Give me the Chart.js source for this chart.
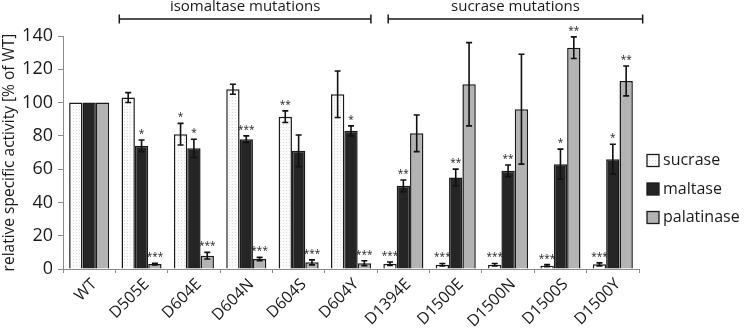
<!DOCTYPE html>
<html>
<head>
<meta charset="utf-8">
<script src="https://cdn.jsdelivr.net/npm/chart.js@4.4.1/dist/chart.umd.min.js"></script>
<style>
    html, body { margin: 0; padding: 0; background: #fff; }
</style>
</head>
<body>
<canvas id="chart" width="745" height="332"></canvas>
<script>
// values (% of WT)
const categories = ['WT', 'D505E', 'D604E', 'D604N', 'D604S', 'D604Y', 'D1394E', 'D1500E', 'D1500N', 'D1500S', 'D1500Y'];
const seriesNames = ['sucrase', 'maltase', 'palatinase'];

const sucrase = [100, 103, 81, 108, 91.5, 105, 3.2, 2.6, 2.6, 2, 2.8];
const maltase = [100, 74, 72.5, 78, 71, 83, 50, 55, 59, 63, 66];
const palatinase = [100, 3, 8, 6, 4, 3.5, 81.5, 111, 96, 133, 113];

const sucraseErr = [0, 3, 6.5, 3, 3.5, 14, 1, 0.7, 0.7, 0.6, 0.9];
const maltaseErr = [0, 3.5, 5.5, 2, 9.5, 3, 3.5, 5, 3.5, 9, 9];
const palatinaseErr = [0, 0.5, 2, 1, 1.5, 1.5, 11, 25, 33, 6.5, 9];

const sucraseSig = ['', '', '*', '', '**', '', '***', '***', '***', '***', '***'];
const maltaseSig = ['', '*', '*', '***', '', '*', '**', '**', '**', '*', '*'];
const palatinaseSig = ['', '***', '***', '***', '***', '***', '', '', '', '**', '**'];

const groupLabels = ['isomaltase mutations', 'sucrase mutations'];
const groupSpans = [[0.575, 5.38], [5.71, 10.57]]; // in category index units

const yMin = 0, yMax = 140, yStep = 20;
const yTitle = 'relative specific activity [% of WT]';

const errors = [sucraseErr, maltaseErr, palatinaseErr];
const stars = [sucraseSig, maltaseSig, palatinaseSig];

Chart.defaults.font.family = "'Open Sans', sans-serif";
Chart.defaults.color = '#1a1a1a';

// faint dotted fill like the white bars in the figure
function dotPattern() {
    const c = document.createElement('canvas');
    c.width = 3; c.height = 3;
    const g = c.getContext('2d');
    g.fillStyle = '#fbfbfb';
    g.fillRect(0, 0, 3, 3);
    g.fillStyle = '#dcdcdc';
    g.fillRect(1, 1, 1, 1);
    return g.createPattern(c, 'repeat');
}

const fills = [dotPattern(), '#252525', '#b3b3b3'];
const values = [sucrase, maltase, palatinase];

const overlay = {
    id: 'overlay',
    afterDatasetsDraw(chart) {
        const ctx = chart.ctx;
        const xs = chart.scales.x, ys = chart.scales.y;
        ctx.save();

        // error bars and significance stars
        chart.data.datasets.forEach((ds, i) => {
            const meta = chart.getDatasetMeta(i);
            meta.data.forEach((bar, j) => {
                const err = errors[i][j];
                const top = ys.getPixelForValue(ds.data[j] + err);
                const bot = ys.getPixelForValue(ds.data[j] - err);
                if (err > 0) {
                    ctx.strokeStyle = '#111';
                    ctx.lineWidth = 1.6;
                    ctx.beginPath();
                    ctx.moveTo(bar.x, top); ctx.lineTo(bar.x, bot);
                    ctx.moveTo(bar.x - 3, top); ctx.lineTo(bar.x + 3, top);
                    ctx.moveTo(bar.x - 3, bot); ctx.lineTo(bar.x + 3, bot);
                    ctx.stroke();
                }
                if (stars[i][j]) {
                    ctx.fillStyle = '#222';
                    ctx.font = "10px 'Open Sans'";
                    ctx.textAlign = 'center';
                    ctx.textBaseline = 'bottom';
                    ctx.fillText(stars[i][j], bar.x, top - 1);
                }
            });
        });

        // group brackets on top
        ctx.strokeStyle = '#1a1a1a';
        ctx.lineWidth = 1.5;
        groupSpans.forEach((span, k) => {
            const x0 = xs.getPixelForValue(span[0]);
            const x1 = xs.getPixelForValue(span[1]);
            const yb = 19;
            ctx.beginPath();
            ctx.moveTo(x0, yb); ctx.lineTo(x1, yb);
            ctx.moveTo(x0, yb - 4.5); ctx.lineTo(x0, yb + 4.5);
            ctx.moveTo(x1, yb - 4.5); ctx.lineTo(x1, yb + 4.5);
            ctx.stroke();
            ctx.fillStyle = '#1a1a1a';
            ctx.font = "15px 'Open Sans'";
            ctx.textAlign = 'center';
            ctx.textBaseline = 'middle';
            ctx.fillText(groupLabels[k], (x0 + x1) / 2, 7);
        });

        // legend
        chart.data.datasets.forEach((ds, i) => {
            const cy = 160.5 + i * 28.5;
            ctx.fillStyle = ds.backgroundColor;
            ctx.fillRect(647, cy - 6, 12, 12);
            ctx.strokeStyle = '#1a1a1a';
            ctx.lineWidth = 1.3;
            ctx.strokeRect(647, cy - 6, 12, 12);
            ctx.fillStyle = '#1a1a1a';
            ctx.font = "16px 'Open Sans'";
            ctx.textAlign = 'left';
            ctx.textBaseline = 'middle';
            ctx.fillText(ds.label, 663, cy);
        });

        ctx.restore();
    }
};

const ctx = document.getElementById('chart').getContext('2d');
new Chart(ctx, {
    type: 'bar',
    data: {
        labels: categories,
        datasets: seriesNames.map((name, i) => ({
            label: name,
            data: values[i],
            backgroundColor: fills[i],
            borderColor: '#1a1a1a',
            borderWidth: 1.5,
            categoryPercentage: 0.765,
            barPercentage: 1.0
        }))
    },
    options: {
        responsive: false,
        animation: false,
        devicePixelRatio: 1,
        layout: { padding: { top: 36, right: 106, left: 0, bottom: 0 } },
        plugins: {
            legend: { display: false },
            tooltip: { enabled: false }
        },
        scales: {
            x: {
                grid: { drawOnChartArea: false, tickLength: 4, color: '#8c8c8c' },
                border: { color: '#8c8c8c', width: 1 },
                ticks: { font: { size: 16 }, maxRotation: 45, minRotation: 45, padding: 2, labelOffset: 5 },
                afterFit: s => { s.height = 63; }
            },
            y: {
                min: yMin,
                max: yMax,
                grid: { drawOnChartArea: false, tickLength: 5, color: '#8c8c8c' },
                border: { color: '#8c8c8c', width: 1 },
                ticks: { stepSize: yStep, font: { size: 18 }, padding: 5 },
                title: { display: true, text: yTitle, font: { size: 15.5 }, padding: { top: 0, bottom: 0 } },
                afterFit: s => { s.width = 63; }
            }
        }
    },
    plugins: [overlay]
});
</script>
</body>
</html>
